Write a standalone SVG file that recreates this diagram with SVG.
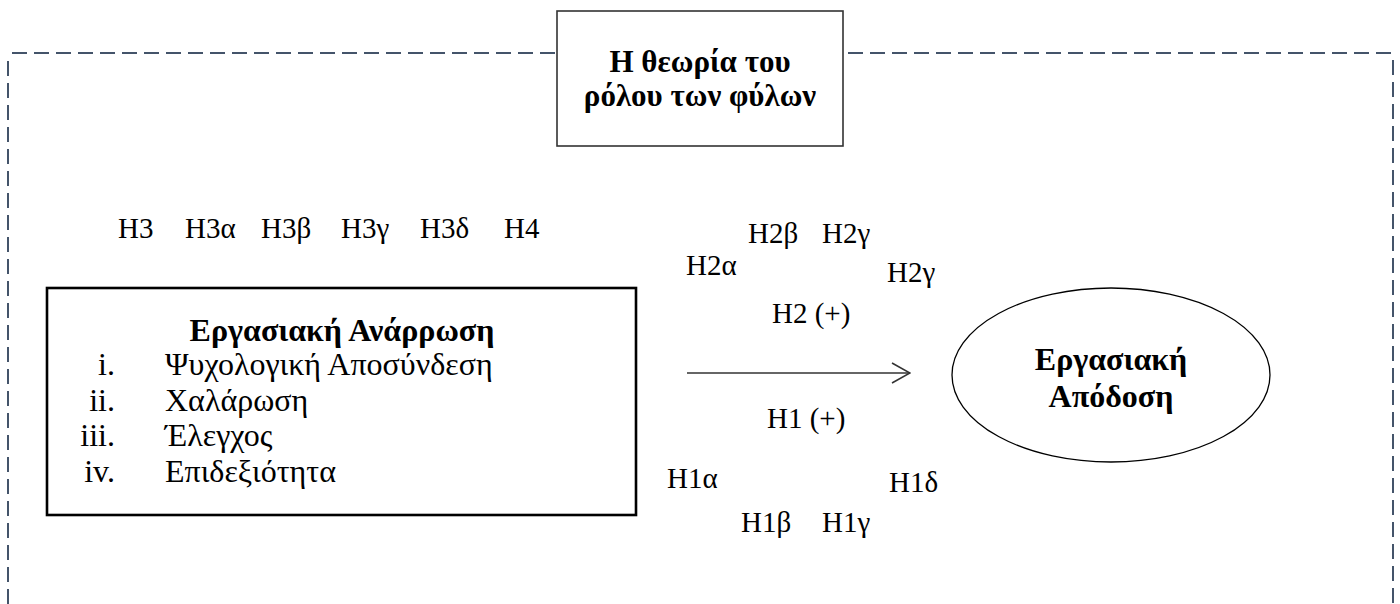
<svg xmlns="http://www.w3.org/2000/svg" width="1400" height="604" viewBox="0 0 1400 604">
  <style>
    text { font-family: "Liberation Serif", "Times New Roman", serif; fill: #000; }
    .b { font-weight: bold; font-size: 32px; }
    .t { font-weight: bold; font-size: 31px; }
    .r { font-size: 32px; }
    .lbl { font-size: 29px; }
    .frame { fill: none; stroke: #44546A; stroke-width: 2; stroke-dasharray: 15 7; }
    .conn { fill: none; stroke: #333; stroke-width: 1.6; }
  </style>
  <defs>
    <marker id="open" viewBox="0 0 20 22" refX="19" refY="11" markerWidth="20" markerHeight="22" markerUnits="userSpaceOnUse" orient="auto">
      <path d="M1,1 L19,11 L1,21" fill="none" stroke="#333" stroke-width="1.6"/>
    </marker>
  </defs>
  <rect width="1400" height="604" fill="#fff"/>

  <g id="frame">
    <path class="frame" d="M8,604 V58"/>
    <path class="frame" d="M12,53 H1393"/>
    <path class="frame" d="M1393,60 V604"/>
  </g>

  <g id="title-node">
    <rect x="557" y="11" width="286" height="135" fill="#fff" stroke="#333" stroke-width="1.6"/>
    <text class="t" x="700" y="72" text-anchor="middle">Η θεωρία του</text>
    <text class="t" x="700" y="106" text-anchor="middle">ρόλου των φύλων</text>
  </g>

  <g id="recovery-node">
    <rect x="47" y="288" width="589" height="227" fill="#fff" stroke="#000" stroke-width="2.6"/>
    <text class="b" x="342" y="341" text-anchor="middle">Εργασιακή Ανάρρωση</text>
    <text class="r" x="115" y="375" text-anchor="end">i.</text>
    <text class="r" x="165" y="375">Ψυχολογική Αποσύνδεση</text>
    <text class="r" x="115" y="411" text-anchor="end">ii.</text>
    <text class="r" x="165" y="411">Χαλάρωση</text>
    <text class="r" x="115" y="446" text-anchor="end">iii.</text>
    <text class="r" x="165" y="446">Έλεγχος</text>
    <text class="r" x="115" y="482" text-anchor="end">iv.</text>
    <text class="r" x="165" y="482">Επιδεξιότητα</text>
  </g>

  <g id="performance-node">
    <ellipse cx="1111" cy="375" rx="159" ry="87" fill="#fff" stroke="#000" stroke-width="1.3"/>
    <text class="b" x="1111" y="370" text-anchor="middle">Εργασιακή</text>
    <text class="b" x="1111" y="407" text-anchor="middle">Απόδοση</text>
  </g>

  <g id="connectors">
    <line class="conn" x1="687" y1="373" x2="910" y2="373" marker-end="url(#open)"/>
  </g>

  <g id="labels">
    <text class="lbl" x="118" y="238">H3</text>
    <text class="lbl" x="185" y="238">H3α</text>
    <text class="lbl" x="261" y="238">H3β</text>
    <text class="lbl" x="341" y="238">H3γ</text>
    <text class="lbl" x="420" y="238">H3δ</text>
    <text class="lbl" x="504" y="238">H4</text>

    <text class="lbl" x="748" y="243">H2β</text>
    <text class="lbl" x="822" y="243">H2γ</text>
    <text class="lbl" x="686" y="275">H2α</text>
    <text class="lbl" x="887" y="282">H2γ</text>
    <text class="lbl" x="772" y="323">H2 (+)</text>

    <text class="lbl" x="767" y="428">H1 (+)</text>
    <text class="lbl" x="667" y="488">H1α</text>
    <text class="lbl" x="889" y="492">H1δ</text>
    <text class="lbl" x="741" y="532">H1β</text>
    <text class="lbl" x="822" y="532">H1γ</text>
  </g>
</svg>
